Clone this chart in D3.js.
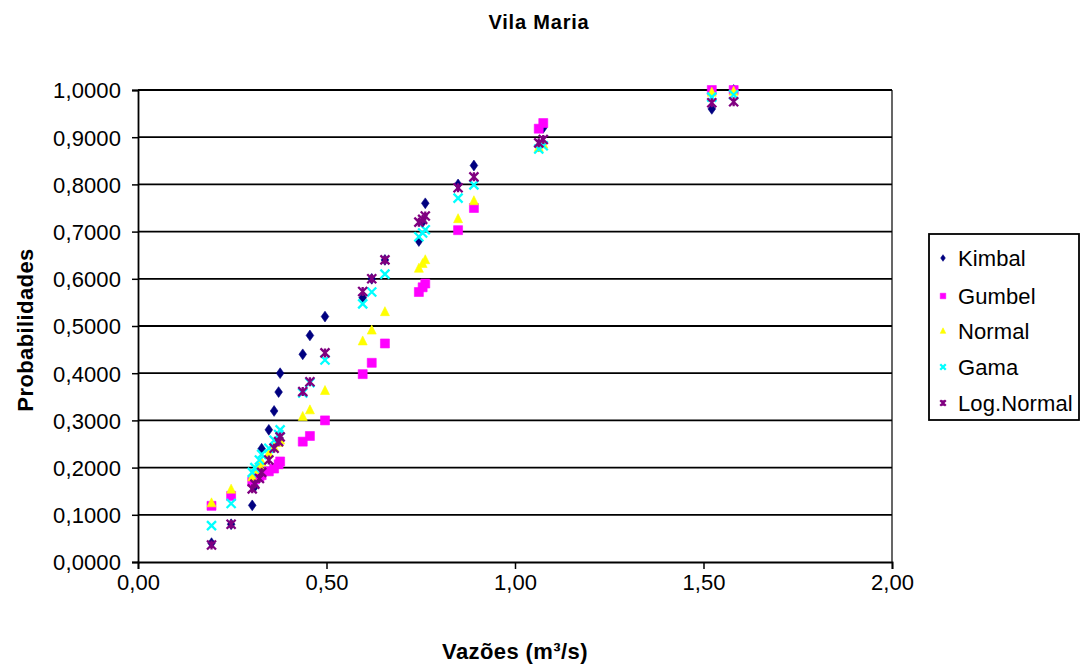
<!DOCTYPE html>
<html><head><meta charset="utf-8">
<script src="https://cdn.jsdelivr.net/npm/d3@7"></script>
<style>
body{margin:0;background:#fff}
text{font-family:Arial,"Liberation Sans",sans-serif;fill:#000}
</style>
</head><body>
<svg id="c" width="1090" height="668"></svg>
<script>
// Observed flows (m³/s), sorted
const vazoes = [0.195, 0.247, 0.303, 0.310, 0.322, 0.328, 0.347, 0.361, 0.373, 0.377, 0.437, 0.456, 0.496, 0.596, 0.620, 0.655, 0.745, 0.755, 0.762, 0.849, 0.891, 1.063, 1.075, 1.522, 1.580];
const kimbal    = [0.04, 0.08, 0.12, 0.16, 0.20, 0.24, 0.28, 0.32, 0.36, 0.40, 0.44, 0.48, 0.52, 0.56, 0.60, 0.64, 0.68, 0.72, 0.76, 0.80, 0.84, 0.88, 0.92, 0.96, 1.00];
const gumbel    = [0.119, 0.140, 0.170, 0.175, 0.180, 0.184, 0.192, 0.198, 0.207, 0.213, 0.255, 0.267, 0.300, 0.398, 0.422, 0.463, 0.572, 0.582, 0.590, 0.703, 0.750, 0.918, 0.930, 1.000, 1.000];
const normal    = [0.125, 0.154, 0.180, 0.195, 0.205, 0.212, 0.230, 0.243, 0.253, 0.258, 0.308, 0.322, 0.363, 0.468, 0.491, 0.530, 0.622, 0.632, 0.640, 0.727, 0.765, 0.878, 0.885, 0.995, 0.997];
const gama      = [0.077, 0.124, 0.190, 0.200, 0.216, 0.228, 0.241, 0.258, 0.270, 0.280, 0.358, 0.380, 0.428, 0.547, 0.572, 0.610, 0.689, 0.697, 0.704, 0.771, 0.799, 0.875, 0.882, 0.985, 0.990];
const lognormal = [0.036, 0.080, 0.155, 0.165, 0.177, 0.190, 0.216, 0.241, 0.255, 0.265, 0.361, 0.382, 0.443, 0.573, 0.600, 0.640, 0.720, 0.726, 0.733, 0.793, 0.816, 0.888, 0.895, 0.973, 0.975];

const seriesNames = ["Kimbal", "Gumbel", "Normal", "Gama", "Log.Normal"];
const xTicks = [0, 0.5, 1.0, 1.5, 2.0];
const yTicks = [0, 0.1, 0.2, 0.3, 0.4, 0.5, 0.6, 0.7, 0.8, 0.9, 1.0];
const chartTitle = "Vila Maria";
const xTitle = "Vazões (m³/s)";
const yTitle = "Probabilidades";

const seriesValues = [kimbal, gumbel, normal, gama, lognormal];
const colors = ["#000080", "#FF00FF", "#FFFF00", "#00FFFF", "#800080"];
const shapes = ["diamond", "square", "triangle", "x", "star"];

const svg = d3.select("#c");
const L = 138, R = 892, T = 90, B = 562;
const x = d3.scaleLinear().domain([0, 2]).range([L, R]);
const y = d3.scaleLinear().domain([0, 1]).range([B, T]);

const loc = d3.formatLocale({decimal: ",", thousands: ".", grouping: [3], currency: ["", ""]});
const fy = loc.format(".4f"), fx = loc.format(".2f");

// Title
svg.append("text").attr("x", 539).attr("y", 29).attr("text-anchor", "middle")
  .style("font-size", "20px").style("font-weight", "bold").style("letter-spacing", "0.8px").text(chartTitle);

// gridlines
svg.append("g").selectAll("line").data(yTicks.filter(d => d > 0)).join("line")
  .attr("x1", L).attr("x2", R).attr("y1", d => y(d)).attr("y2", d => y(d))
  .attr("stroke", "#000").attr("stroke-width", 1.8);
// right border
svg.append("line").attr("x1", R).attr("x2", R).attr("y1", T).attr("y2", B)
  .attr("stroke", "#000").attr("stroke-width", 1.2);

// axes
const gy = svg.append("g").attr("transform", `translate(${L},0)`)
  .call(d3.axisLeft(y).tickValues(yTicks).tickFormat(fy).tickSize(6).tickPadding(11));
const gx = svg.append("g").attr("transform", `translate(0,${B})`)
  .call(d3.axisBottom(x).tickValues(xTicks).tickFormat(fx).tickSize(7).tickPadding(5));
[gy, gx].forEach(g => {
  g.select(".domain").attr("stroke", "#000").attr("stroke-width", 1.8);
  g.selectAll(".tick line").attr("stroke", "#000").attr("stroke-width", 1.5);
  g.selectAll(".tick text").style("font-size", "22px").style("letter-spacing", "0.1px")
    .style("font-family", "Arial, 'Liberation Sans', sans-serif").attr("fill", "#000");
});
gy.selectAll(".tick text").attr("dy", "0.36em");

// axis titles
svg.append("text").attr("transform", `translate(33,${(T + B) / 2 + 4}) rotate(-90)`)
  .attr("text-anchor", "middle").style("font-size", "22px").style("font-weight", "bold")
  .style("letter-spacing", "0.4px").text(yTitle);
svg.append("text").attr("x", 515).attr("y", 659).attr("text-anchor", "middle")
  .style("font-size", "22px").style("font-weight", "bold").style("letter-spacing", "0.4px").text(xTitle);

// marker path generator
function markerPath(shape, s) {
  const h = s / 2;
  switch (shape) {
    case "diamond": return `M0,${-h * 1.2}L${h * 0.85},0L0,${h * 1.2}L${-h * 0.85},0Z`;
    case "square": return `M${-h},${-h}H${h}V${h}H${-h}Z`;
    case "triangle": return `M0,${-h * 1.15}L${h},${h * 0.85}L${-h},${h * 0.85}Z`;
    case "x": return `M${-h},${-h}L${h},${h}M${h},${-h}L${-h},${h}`;
    case "star": return `M${-h},${-h}L${h},${h}M${h},${-h}L${-h},${h}M0,${-h}V${h}`;
  }
}
function drawMarker(g, shape, color, s) {
  const stroked = shape === "x" || shape === "star";
  g.append("path").attr("d", markerPath(shape, s))
    .attr("fill", stroked ? "none" : color)
    .attr("stroke", color).attr("stroke-width", stroked ? 2.3 : 0.6);
}

// points
seriesValues.forEach((vals, si) => {
  const g = svg.append("g");
  vals.forEach((v, i) => {
    const mg = g.append("g").attr("transform", `translate(${x(vazoes[i])},${y(v)})`);
    drawMarker(mg, shapes[si], colors[si], 9);
  });
});

// legend
const lg = svg.append("g");
lg.append("rect").attr("x", 929).attr("y", 234).attr("width", 150).attr("height", 186)
  .attr("fill", "#fff").attr("stroke", "#000").attr("stroke-width", 1.8);
const rowY = [258, 296, 331, 367, 403];
seriesNames.forEach((n, i) => {
  const mg = lg.append("g").attr("transform", `translate(943,${rowY[i]})`);
  drawMarker(mg, shapes[i], colors[i], 5.5);
  lg.append("text").attr("x", 958).attr("y", rowY[i]).attr("dy", "0.36em")
    .style("font-size", "22px").style("letter-spacing", "0.1px").text(n);
});
</script>
</body></html>
